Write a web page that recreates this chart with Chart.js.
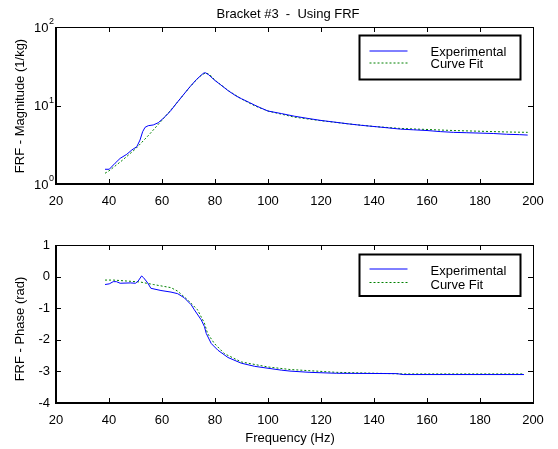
<!DOCTYPE html>
<html>
<head>
<meta charset="utf-8">
<script src="https://cdn.jsdelivr.net/npm/chart.js@4"></script>
<style>
  body { margin: 0; background: #fff; }
  #wrap { position: relative; width: 558px; height: 449px; }
  .box { position: absolute; left: 0; width: 558px; }
</style>
</head>
<body>
<div id="wrap">
  <div class="box" style="top:0;height:220px"><canvas id="magChart"></canvas></div>
  <div class="box" style="top:220px;height:229px"><canvas id="phaseChart"></canvas></div>
</div>
<script>
// Frequencies (Hz) and values
const magExpFreq = [38.5, 40.1, 42.3, 44.2, 46.7, 48.6, 50.5, 51.7, 52.7, 53.6, 54.8, 56.7, 58.6, 60.5, 63, 65.5, 68, 70.6, 73.1, 75.6, 76.3, 77.5, 80, 82, 85, 88, 90, 93, 95, 97, 100, 105, 110, 115, 120, 125, 130, 135, 140, 145, 150, 155, 160, 165, 170, 175, 180, 185, 190, 195, 198];
const magExp = [1.54, 1.54, 1.84, 2.12, 2.39, 2.71, 2.99, 3.63, 4.64, 5.27, 5.53, 5.65, 6.04, 6.87, 8.34, 10.7, 13.6, 17.4, 21.6, 25.7, 26.2, 24.8, 20.8, 18.5, 15.4, 13.2, 12.2, 10.9, 10.1, 9.4, 8.5, 7.9, 7.3, 6.85, 6.45, 6.15, 5.85, 5.6, 5.4, 5.2, 5.0, 4.9, 4.8, 4.65, 4.55, 4.5, 4.45, 4.4, 4.3, 4.25, 4.2];

const magFitFreq = [38.5, 40, 45, 50, 55, 60, 65, 70, 73, 75, 76.5, 78, 80, 85, 90, 95, 100, 110, 120, 130, 140, 150, 160, 170, 180, 190, 198];
const magFit = [1.37, 1.47, 2.0, 2.8, 4.2, 6.5, 10.2, 16.4, 21.3, 24.6, 26.0, 24.8, 21.0, 15.5, 12.1, 9.9, 8.5, 7.1, 6.4, 5.85, 5.4, 5.1, 4.95, 4.8, 4.7, 4.6, 4.55];

const phaseExpFreq = [38.5, 40.1, 41.6, 42.8, 44.2, 48, 50, 51, 52.3, 53, 54.6, 55.8, 59.6, 63.4, 65.9, 68.4, 71, 72.2, 74.8, 76, 76.7, 78.6, 81.1, 84.9, 89.9, 95, 100, 105, 108.3, 115.8, 125.9, 148.6, 151, 196.6];
const phaseExp = [-0.25, -0.23, -0.16, -0.16, -0.21, -0.2, -0.21, -0.14, 0.02, -0.03, -0.2, -0.37, -0.44, -0.49, -0.54, -0.67, -0.89, -1.05, -1.37, -1.58, -1.8, -2.12, -2.33, -2.56, -2.74, -2.84, -2.9, -2.96, -2.99, -3.03, -3.06, -3.07, -3.1, -3.1];

const phaseFitFreq = [38.5, 41.6, 46.7, 51.7, 56.7, 63.4, 65.9, 69.6, 73.4, 76, 77.2, 79.8, 83.6, 89.9, 100, 108.3, 125.9, 151, 196.6];
const phaseFit = [-0.11, -0.11, -0.14, -0.17, -0.25, -0.35, -0.46, -0.73, -1.05, -1.47, -1.8, -2.12, -2.44, -2.7, -2.86, -2.94, -3.03, -3.08, -3.08];

const seriesLabels = ["Experimental", "Curve Fit"];
const xTicks = [20, 40, 60, 80, 100, 120, 140, 160, 180, 200];
const magTicks = [1, 10, 100];
const magTickExp = ["0", "1", "2"];
const phaseTicks = [1, 0, -1, -2, -3, -4];

const FONT = "'Liberation Sans', Arial, Helvetica, sans-serif";

function toPoints(xs, ys) {
    return xs.map((x, i) => ({ x: x, y: ys[i] }));
}

function makeDatasets(expX, expY, fitX, fitY) {
    return [{
        label: seriesLabels[0],
        data: toPoints(expX, expY),
        borderColor: "#0000ff",
        borderWidth: 1,
        pointRadius: 0,
        tension: 0
    }, {
        label: seriesLabels[1],
        data: toPoints(fitX, fitY),
        borderColor: "#008000",
        borderWidth: 1,
        borderDash: [2, 2],
        pointRadius: 0,
        tension: 0
    }];
}

// box round the plot, inward ticks, legend and texts
const framePlugin = {
    id: "frame",
    afterDraw(chart, args, opts) {
        const ctx = chart.ctx;
        const a = chart.chartArea;
        const xs = chart.scales.x, ys = chart.scales.y;
        ctx.save();
        ctx.strokeStyle = "#000";
        ctx.lineWidth = 1;
        // ticks
        ctx.beginPath();
        xTicks.forEach(v => {
            const px = Math.round(xs.getPixelForValue(v)) + 0.5;
            ctx.moveTo(px, a.bottom); ctx.lineTo(px, a.bottom - 5);
            ctx.moveTo(px, a.top); ctx.lineTo(px, a.top + 5);
        });
        ys.ticks.forEach(t => {
            const py = Math.round(ys.getPixelForValue(t.value)) + 0.5;
            ctx.moveTo(a.left, py); ctx.lineTo(a.left + 5, py);
            ctx.moveTo(a.right, py); ctx.lineTo(a.right - 5, py);
        });
        ctx.stroke();
        // box: thin top/right, heavier left/bottom
        ctx.beginPath();
        ctx.moveTo(a.left, a.top + 0.5); ctx.lineTo(a.right + 0.5, a.top + 0.5);
        ctx.lineTo(a.right + 0.5, a.bottom);
        ctx.stroke();
        ctx.lineWidth = 2;
        ctx.beginPath();
        ctx.moveTo(a.left, a.top);
        ctx.lineTo(a.left, a.bottom);
        ctx.lineTo(a.right + 1, a.bottom);
        ctx.stroke();

        // legend
        const lg = opts.legend;
        ctx.fillStyle = "#fff";
        ctx.fillRect(lg.x, lg.y, lg.w, lg.h);
        ctx.lineWidth = 2;
        ctx.strokeRect(lg.x, lg.y, lg.w, lg.h);
        chart.data.datasets.forEach((ds, i) => {
            const ly = lg.y + lg.rows[i];
            ctx.beginPath();
            ctx.strokeStyle = ds.borderColor;
            ctx.lineWidth = 1;
            ctx.setLineDash(ds.borderDash || []);
            ctx.moveTo(lg.x + 10, ly + 0.5);
            ctx.lineTo(lg.x + 48, ly + 0.5);
            ctx.stroke();
            ctx.setLineDash([]);
            ctx.fillStyle = "#000";
            ctx.font = "13px " + FONT;
            ctx.textAlign = "left";
            ctx.textBaseline = "middle";
            ctx.fillText(ds.label, lg.x + 71, ly + lg.textShift);
        });
        ctx.strokeStyle = "#000";

        // texts
        ctx.fillStyle = "#000";
        ctx.font = "13px " + FONT;
        ctx.textAlign = "center";
        ctx.textBaseline = "middle";
        if (opts.title) ctx.fillText(opts.title, 288, 14);
        if (opts.xTitle) ctx.fillText(opts.xTitle, 290, opts.xTitleY);
        ctx.save();
        ctx.translate(20, opts.yTitleY);
        ctx.rotate(-Math.PI / 2);
        ctx.fillText(opts.yTitle, 0, 0);
        ctx.restore();

        // power-of-ten labels on the log axis
        if (opts.logLabels) {
            ys.ticks.forEach((t, i) => {
                const py = ys.getPixelForValue(t.value);
                ctx.textAlign = "right";
                ctx.font = "13px " + FONT;
                ctx.fillText("10", 48.5, py + 1);
                ctx.textAlign = "left";
                ctx.font = "9px " + FONT;
                ctx.fillText(magTickExp[i], 49, py - 5);
            });
        }
        ctx.restore();
    }
};

function xAxis(height) {
    return {
        type: "linear",
        min: 20,
        max: 200,
        grid: { display: false, drawTicks: false },
        border: { display: false },
        afterBuildTicks: axis => { axis.ticks = xTicks.map(v => ({ value: v })); },
        afterFit: axis => { axis.height = height; },
        ticks: { color: "#000", padding: 10, font: { family: FONT, size: 13 } }
    };
}

new Chart(document.getElementById("magChart"), {
    type: "line",
    data: { datasets: makeDatasets(magExpFreq, magExp, magFitFreq, magFit) },
    options: {
        responsive: true,
        maintainAspectRatio: false,
        animation: false,
        layout: { padding: { top: 27, right: 25, left: 0, bottom: 0 } },
        plugins: {
            legend: { display: false },
            tooltip: { enabled: false },
            frame: {
                title: "Bracket #3  -  Using FRF",
                yTitle: "FRF - Magnitude (1/kg)",
                yTitleY: 106,
                logLabels: true,
                legend: { x: 359.5, y: 35.5, w: 161, h: 44, rows: [15, 27], textShift: 2 }
            }
        },
        scales: {
            x: xAxis(36),
            y: {
                type: "logarithmic",
                min: 1,
                max: 100,
                grid: { display: false, drawTicks: false },
                border: { display: false },
                afterBuildTicks: axis => { axis.ticks = magTicks.map(v => ({ value: v })); },
                afterFit: axis => { axis.width = 56; },
                ticks: { callback: () => "", padding: 6 }
            }
        }
    },
    plugins: [framePlugin]
});

new Chart(document.getElementById("phaseChart"), {
    type: "line",
    data: { datasets: makeDatasets(phaseExpFreq, phaseExp, phaseFitFreq, phaseFit) },
    options: {
        responsive: true,
        maintainAspectRatio: false,
        animation: false,
        layout: { padding: { top: 25, right: 25, left: 0, bottom: 0 } },
        plugins: {
            legend: { display: false },
            tooltip: { enabled: false },
            frame: {
                xTitle: "Frequency (Hz)",
                xTitleY: 218,
                yTitle: "FRF - Phase (rad)",
                yTitleY: 109,
                legend: { x: 359.5, y: 34.5, w: 161, h: 41.5, rows: [14, 27.5], textShift: 3 }
            }
        },
        scales: {
            x: xAxis(46),
            y: {
                type: "linear",
                min: -4,
                max: 1,
                grid: { display: false, drawTicks: false },
                border: { display: false },
                afterBuildTicks: axis => { axis.ticks = phaseTicks.map(v => ({ value: v })); },
                afterFit: axis => { axis.width = 56; },
                ticks: { color: "#000", padding: 6, font: { family: FONT, size: 13 } }
            }
        }
    },
    plugins: [framePlugin]
});
</script>
</body>
</html>
